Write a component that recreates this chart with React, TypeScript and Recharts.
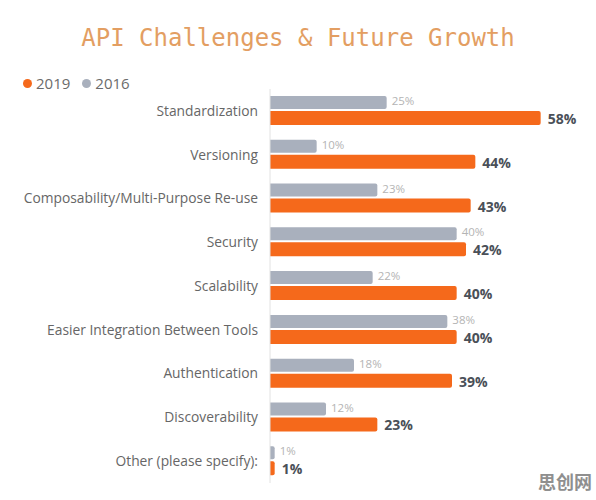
import { BarChart, Bar, XAxis, YAxis, LabelList } from "recharts";

const categories = [
  "Standardization",
  "Versioning",
  "Composability/Multi-Purpose Re-use",
  "Security",
  "Scalability",
  "Easier Integration Between Tools",
  "Authentication",
  "Discoverability",
  "Other (please specify):",
];
const values2019 = [58, 44, 43, 42, 40, 40, 39, 23, 1];
const values2016 = [25, 10, 23, 40, 22, 38, 18, 12, 1];

const ORANGE = "#f5691b";
const GRAY = "#a9b0bd";

const data = categories.map((name, i) => ({
  name,
  y2019: values2019[i],
  y2016: values2016[i],
}));

const pct = (v: unknown) => `${v}%`;

export default function App() {
  return (
    <div
      style={{
        position: "absolute",
        left: 0,
        top: 0,
        width: 596,
        height: 500,
        background: "#fff",
        fontFamily: "'Open Sans', sans-serif",
      }}
    >
      <div
        style={{
          position: "absolute",
          left: 0,
          top: 22,
          width: 596,
          textAlign: "center",
          fontFamily: "'DejaVu Sans Mono', monospace",
          fontSize: 24,
          color: "#e39e62",
          lineHeight: "32px",
        }}
      >
        API Challenges &amp; Future Growth
      </div>
      <div
        style={{
          position: "absolute",
          left: 23,
          top: 73,
          fontSize: 15,
          color: "#6b6b6b",
          display: "flex",
          alignItems: "center",
          lineHeight: "20px",
        }}
      >
        <span style={{ width: 9, height: 9, borderRadius: 5, background: ORANGE, marginRight: 4 }} />
        <span style={{ marginRight: 12 }}>2019</span>
        <span style={{ width: 9, height: 9, borderRadius: 5, background: GRAY, marginRight: 4 }} />
        <span>2016</span>
      </div>
      <div style={{ position: "absolute", left: 0, top: 0 }}>
        <BarChart
          width={596}
          height={500}
          data={data}
          layout="vertical"
          margin={{ top: 89, right: 46, left: 0, bottom: 17 }}
          barGap={2}
          barCategoryGap={8}
        >
          <XAxis type="number" domain={[0, 60]} hide />
          <YAxis
            type="category"
            dataKey="name"
            width={270}
            tickLine={false}
            tickSize={0}
            tickMargin={12}
            axisLine={{ stroke: "#e2e2e2" }}
            tick={{ fill: "#666", fontSize: 13.8, fontFamily: "'Open Sans', sans-serif" }}
            interval={0}
          />
          <Bar dataKey="y2016" fill={GRAY} barSize={13} radius={[0, 2, 2, 0]} isAnimationActive={false}>
            <LabelList
              dataKey="y2016"
              position="right"
              offset={5}
              dy={-1.5}
              formatter={pct}
              style={{ fill: "#b4b4b4", fontSize: 11.5, fontFamily: "'Open Sans', sans-serif" }}
            />
          </Bar>
          <Bar dataKey="y2019" fill={ORANGE} barSize={14} radius={[0, 2, 2, 0]} isAnimationActive={false}>
            <LabelList
              dataKey="y2019"
              position="right"
              offset={7}
              dy={1}
              formatter={pct}
              style={{ fill: "#4a5058", fontSize: 14, fontWeight: 700, fontFamily: "'Open Sans', sans-serif" }}
            />
          </Bar>
        </BarChart>
      </div>
      <div
        style={{
          position: "absolute",
          left: 538,
          top: 468,
          fontSize: 18,
          fontWeight: 700,
          color: "#8f8f8f",
          fontFamily: "'Noto Sans CJK SC', sans-serif",
        }}
      >
        思创网
      </div>
    </div>
  );
}
